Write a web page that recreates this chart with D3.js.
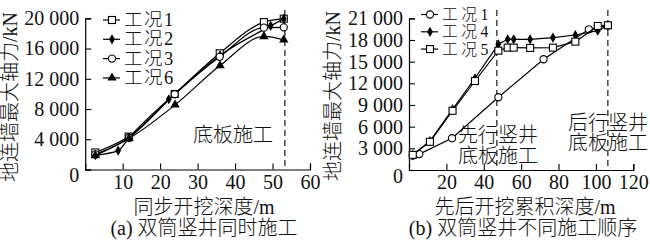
<!DOCTYPE html>
<html>
<head>
<meta charset="utf-8">
<script src="https://cdn.jsdelivr.net/npm/d3@7"></script>
<style>
  body { margin: 0; background: #fff; }
  svg { display: block; }
  text { font-family: 'Liberation Serif', 'Noto Sans CJK SC', serif; fill: #111; }
  .cjk { font-weight: 300; }
</style>
</head>
<body>
<script>
// tick values
var xTicksA = [10, 20, 30, 40, 50, 60];
var yTicksA = [0, 4000, 8000, 12000, 16000, 20000];
var xTicksB = [20, 40, 60, 80, 100, 120];
var yTicksB = [0, 3000, 6000, 9000, 12000, 15000, 18000, 21000];

// (a) 同步开挖
var c1A_x = [2.7, 11.6, 23.9, 35.9, 47.7, 53];
var c1A_y = [2250, 4350, 9990, 15370, 19500, 19950];
var c2A_x = [2.7, 8.8, 11.7, 22.3, 36, 49.5, 53];
var c2A_y = [1900, 2500, 4200, 9290, 15100, 19000, 19950];
var c3A_x = [2.7, 11.7, 23.9, 35.9, 47.7, 53];
var c3A_y = [2000, 4200, 9950, 14900, 18760, 18800];
var c6A_x = [2.7, 11.7, 24, 36, 47.7, 53];
var c6A_y = [1850, 4100, 8550, 13750, 17600, 17150];

// (b) 先后开挖
var c1B_x = [2, 5.5, 23, 47.8, 72, 96.2, 106.4];
var c1B_y = [2000, 2200, 4400, 10070, 15330, 19480, 20000];
var c4B_x = [2, 11.2, 23.3, 35.3, 47.8, 52.8, 56, 64.8, 77, 89, 101, 106.4];
var c4B_y = [2100, 4000, 8400, 12700, 17400, 18090, 18090, 18090, 18320, 18690, 19290, 20000];
var c5B_x = [2, 11.2, 23.3, 35.3, 47.8, 52.8, 56, 64.8, 77, 89, 101, 106.4];
var c5B_y = [2100, 3900, 8200, 12320, 16520, 16940, 16940, 16900, 16940, 17770, 19940, 20030];

var dashA = [53.3];
var dashB = [47, 106.4];

var svg = d3.select('body').append('svg').attr('width', 650).attr('height', 245);
var fmt = d3.formatLocale({ decimal: '.', thousands: ' ', grouping: [3], currency: ['', ''] }).format(',d');

function zip(xs, ys) { return xs.map(function (x, i) { return [x, ys[i]]; }); }

function marker(g, type, x, y) {
  if (type === 'square') {
    g.append('rect').attr('x', x - 3.5).attr('y', y - 3.5).attr('width', 7).attr('height', 7)
      .attr('fill', '#fff').attr('stroke', '#000').attr('stroke-width', 1.1);
  } else if (type === 'circle') {
    g.append('circle').attr('cx', x).attr('cy', y).attr('r', 3.6)
      .attr('fill', '#fff').attr('stroke', '#000').attr('stroke-width', 1.1);
  } else if (type === 'diamond') {
    g.append('path').attr('d', d3.symbol(d3.symbolDiamond, 30)()).attr('transform', 'translate(' + x + ',' + y + ')')
      .attr('fill', '#000');
  } else if (type === 'triangle') {
    g.append('path').attr('d', d3.symbol(d3.symbolTriangle, 38)()).attr('transform', 'translate(' + x + ',' + y + ')')
      .attr('fill', '#000');
  }
}

function panel(opt) {
  var g = svg.append('g');
  var x = d3.scaleLinear().domain(opt.xDom).range(opt.xRange);
  var y = d3.scaleLinear().domain(opt.yDom).range(opt.yRange);

  var ya = g.append('g').attr('transform', 'translate(' + opt.xRange[0] + ',0)')
    .call(d3.axisLeft(y).tickValues(opt.yTicks).tickSize(-6).tickPadding(6).tickFormat(fmt));
  ya.selectAll('text').style('font-size', '20px').attr('fill', '#111')
    .attr('dy', function (d) { return d === 0 ? '0.62em' : '0.32em'; });
  var xa = g.append('g').attr('transform', 'translate(0,' + opt.yRange[0] + ')')
    .call(d3.axisBottom(x).tickValues(opt.xTicks).tickSize(-6).tickPadding(5));
  xa.selectAll('text').style('font-size', '20px').attr('fill', '#111');
  g.selectAll('.domain').attr('stroke', '#000').attr('stroke-width', 1.2);
  g.selectAll('.tick line').attr('stroke', '#000').attr('stroke-width', 1.1);

  opt.dashes.forEach(function (d) {
    g.append('line').attr('x1', x(d)).attr('x2', x(d)).attr('y1', 10).attr('y2', opt.yRange[0])
      .attr('stroke', '#000').attr('stroke-width', 1.1).attr('stroke-dasharray', '6,4');
  });

  var line = d3.line().x(function (d) { return x(d[0]); }).y(function (d) { return y(d[1]); })
    .curve(opt.curve);
  opt.series.forEach(function (s) {
    var pts = zip(s.xs, s.ys);
    g.append('path').attr('d', line(pts)).attr('fill', 'none').attr('stroke', '#000').attr('stroke-width', 1.2);
    pts.forEach(function (p) { marker(g, s.type, x(p[0]), y(p[1])); });
  });

  // legend
  opt.series.forEach(function (s, i) {
    var ly = opt.legend[1] + i * opt.legend[2];
    var lx = opt.legend[0];
    g.append('line').attr('x1', lx).attr('x2', lx + 17).attr('y1', ly).attr('y2', ly)
      .attr('stroke', '#000').attr('stroke-width', 1.2);
    marker(g, s.type, lx + 9, ly);
    g.append('text').attr('class', 'cjk').attr('x', lx + 21).attr('y', ly).attr('dominant-baseline', 'central')
      .style('font-size', opt.legend[3] + 'px').style('letter-spacing', opt.legend[4] + 'px')
      .attr('fill', '#444').text(s.name);
  });

  // y title
  g.append('text').attr('class', 'cjk').attr('transform', 'translate(' + opt.yTitle[0] + ',' + opt.yTitle[1] + ') rotate(-90)')
    .attr('text-anchor', 'middle').attr('dominant-baseline', 'central')
    .style('font-size', '20px').attr('fill', '#222').text('地连墙最大轴力/kN');
  g.append('text').attr('class', 'cjk').attr('x', opt.xTitle[0]).attr('y', 207).attr('text-anchor', 'middle')
    .attr('dominant-baseline', 'central').style('font-size', '20px').attr('fill', '#222').text(opt.xTitle[1]);
  g.append('text').attr('class', 'cjk').attr('x', opt.caption[0]).attr('y', 228).attr('text-anchor', 'middle')
    .attr('dominant-baseline', 'central').style('font-size', '20px').attr('fill', '#333').text(opt.caption[1]);

  opt.notes.forEach(function (n) {
    g.append('text').attr('class', 'cjk').attr('x', n[0]).attr('y', n[1]).attr('text-anchor', 'middle')
      .attr('dominant-baseline', 'central').style('font-size', '20px').attr('fill', '#333').text(n[2]);
  });
}

panel({
  xDom: [0, 60], xRange: [85.2, 310], yDom: [0, 20000], yRange: [169.5, 18.3],
  xTicks: xTicksA, yTicks: yTicksA, dashes: dashA, curve: d3.curveMonotoneX,
  series: [
    { name: '工况1', type: 'square', xs: c1A_x, ys: c1A_y },
    { name: '工况2', type: 'diamond', xs: c2A_x, ys: c2A_y },
    { name: '工况3', type: 'circle', xs: c3A_x, ys: c3A_y },
    { name: '工况6', type: 'triangle', xs: c6A_x, ys: c6A_y }
  ],
  legend: [103, 20, 19.3, 18.5, 1.5],
  yTitle: [10, 97], xTitle: [204, '同步开挖深度/m'], caption: [204, '(a) 双筒竖井同时施工'],
  notes: [[233, 135, '底板施工']]
});

panel({
  xDom: [0, 120], xRange: [409, 633.3], yDom: [0, 21000], yRange: [170, 18.3],
  xTicks: xTicksB, yTicks: yTicksB, dashes: dashB, curve: d3.curveLinear,
  series: [
    { name: '工况1', type: 'circle', xs: c1B_x, ys: c1B_y },
    { name: '工况4', type: 'diamond', xs: c4B_x, ys: c4B_y },
    { name: '工况5', type: 'square', xs: c5B_x, ys: c5B_y }
  ],
  legend: [421, 14.5, 17.3, 15.8, 3.5],
  yTitle: [333, 96], xTitle: [525, '先后开挖累积深度/m'], caption: [523, '(b) 双筒竖井不同施工顺序'],
  notes: [[498, 135, '先行竖井'], [498, 156, '底板施工'], [608, 123, '后行竖井'], [608, 143, '底板施工']]
});
</script>
</body>
</html>
